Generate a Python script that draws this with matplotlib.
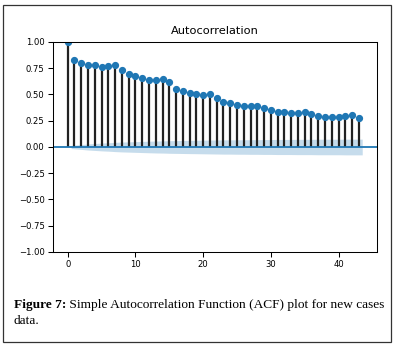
import numpy as np
import matplotlib
matplotlib.use('Agg')
import matplotlib.pyplot as plt
from matplotlib.patches import Rectangle

# ACF values (lags 0..43)
lags = np.arange(44)
acf_vals = [1.0, 0.827, 0.80, 0.78, 0.78, 0.76, 0.77, 0.78, 0.73, 0.695,
            0.677, 0.658, 0.642, 0.642, 0.649, 0.617, 0.55, 0.53, 0.511, 0.503,
            0.495, 0.505, 0.464, 0.43, 0.42, 0.403, 0.395, 0.395, 0.395, 0.372,
            0.352, 0.333, 0.33, 0.321, 0.321, 0.332, 0.311, 0.294, 0.284, 0.284,
            0.284, 0.296, 0.304, 0.274]
# confidence band half-width for lags 1..43 (estimated)
band = [0.015, 0.023, 0.029, 0.033, 0.037, 0.040, 0.044, 0.047, 0.049, 0.051,
        0.053, 0.055, 0.057, 0.058, 0.060, 0.061, 0.062, 0.063, 0.064, 0.065,
        0.066, 0.067, 0.068, 0.068, 0.069, 0.069, 0.070, 0.070, 0.071, 0.071,
        0.072, 0.072, 0.072, 0.073, 0.073, 0.073, 0.074, 0.074, 0.074, 0.074,
        0.075, 0.075, 0.075]

title = 'Autocorrelation'
caption_bold = 'Figure 7:'
caption_line1 = ' Simple Autocorrelation Function (ACF) plot for new cases'
caption_line2 = 'data.'

fig = plt.figure(figsize=(3.97, 3.49), dpi=100)
ax = fig.add_axes([0.1335, 0.278, 0.816, 0.6017])

ax.vlines(lags, 0, acf_vals, color='#222222', lw=1.6)
ax.axhline(0, color='C0', lw=1.3)
ax.margins(0.05)
ax.plot(lags, acf_vals, 'o', color='C0', markersize=4.2, linestyle='None')

# band (edges stretched half a lag like statsmodels)
bx = lags[1:].astype(float)
bx[0] -= 0.5
bx[-1] += 0.5
b = np.array(band)
ax.fill_between(bx, -b, b, color='C0', alpha=0.25, lw=0)

ax.set_ylim(-1, 1)
ax.set_yticks(np.arange(-1, 1.01, 0.25))
ax.set_xticks([0, 10, 20, 30, 40])
ax.set_title(title, fontsize=8.2, pad=5.5)
ax.tick_params(labelsize=6.1, length=3.5, width=0.75, pad=2.5)
for s in ax.spines.values():
    s.set_linewidth(0.75)

# outer frame
fig.patches.append(Rectangle((0.0076, 0.02), 0.9774, 0.9657, transform=fig.transFigure,
                             fill=False, edgecolor='#333333', lw=0.9))

# caption
cap_font = 'Liberation Serif'
cap_size = 9.6
y1 = 1 - 305 / 349
y2 = 1 - 321 / 349
x0 = 14 / 397
t = fig.text(x0, y1, caption_bold, fontsize=cap_size, family=cap_font, weight='bold', va='center')
fig.canvas.draw()
bb = t.get_window_extent(renderer=fig.canvas.get_renderer())
x1 = bb.x1 / fig.bbox.width
fig.text(x1, y1, caption_line1, fontsize=cap_size, family=cap_font, va='center')
fig.text(x0, y2, caption_line2, fontsize=cap_size, family=cap_font, va='center')

fig.savefig('out.png', dpi=100)
